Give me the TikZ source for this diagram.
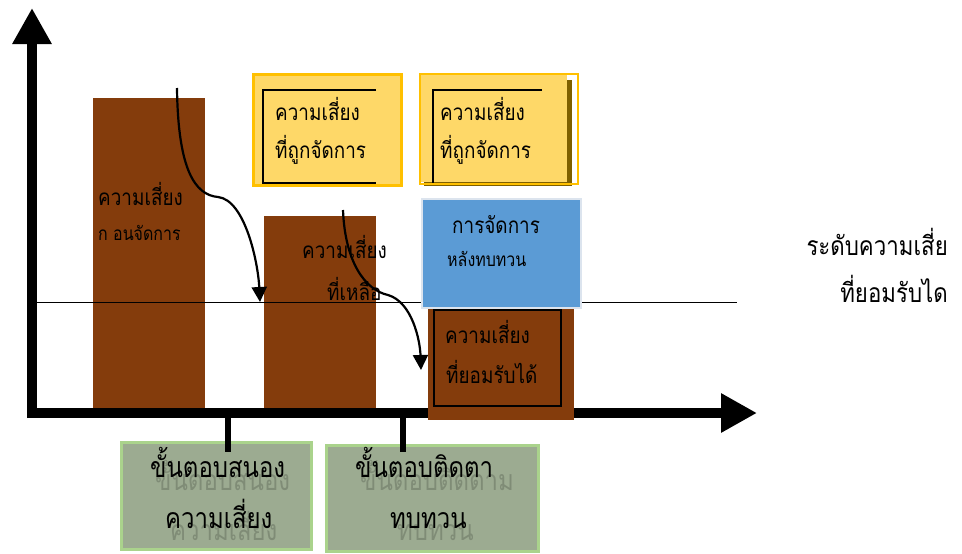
\documentclass[tikz,border=0pt]{standalone}
\usepackage{fontspec}
\setmainfont[Script=Thai, FakeStretch=0.84]{Loma}
\usetikzlibrary{positioning,arrows.meta}
\definecolor{riskbrown}{HTML}{843C0C}
\definecolor{mgdyellow}{HTML}{FED868}
\definecolor{mgdgold}{HTML}{FFC000}
\definecolor{mgdshadow}{HTML}{7F6000}
\definecolor{revblue}{HTML}{5B9BD5}
\definecolor{revedge}{HTML}{DCE4EE}
\definecolor{stepfill}{HTML}{9CAB91}
\definecolor{stepedge}{HTML}{AAD38C}
\tikzset{
  bar/.style={fill=riskbrown, anchor=north west, inner sep=0pt},
  mgdbox/.style={fill=mgdyellow, draw=mgdgold, line width=2.5pt, anchor=north west, inner sep=0pt},
  stepbox/.style={fill=stepfill, draw=stepedge, line width=3pt, anchor=north west, inner sep=0pt},
  txt/.style={anchor=base west, inner sep=0pt, font=\fontsize{22.5}{22.5}\selectfont},
  smalltxt/.style={txt, font=\fontsize{19}{19}\selectfont},
  bigtxt/.style={txt, font=\fontsize{28.5}{28.5}\selectfont},
  sidetxt/.style={txt, font=\fontsize{26.5}{26.5}\selectfont},
  ghost/.style={bigtxt, text=black, text opacity=0.18},
  axis/.style={line width=10pt, -{Triangle[width=37pt,length=36pt]}},
  flow/.style={line width=2.2pt, -{Triangle[width=15pt,length=15pt]}},
  tick/.style={line width=6pt}
}
\begin{document}
\begin{tikzpicture}[x=1pt,y=-1pt]
\useasboundingbox (0,0) rectangle (962,554);
\node[bar, minimum width=112pt, minimum height=314pt] (before) at (93,98) {};
\node[bar, minimum width=112pt, minimum height=196pt] (remain) at (264,216) {};
\coordinate (lvlL) at (33,302);
\coordinate (lvlR) at (737,302);
\draw[line width=1pt] (lvlL) -- (lvlR);
\coordinate (ybase) at (32,418);
\coordinate (ytip) at (32,8);
\coordinate (xbase) at (27,413);
\coordinate (xtip) at (757,413);
\draw[axis] (ybase) -- (ytip);
\draw[axis] (xbase) -- (xtip);
\node[bar, minimum width=146pt, minimum height=112pt] (accept) at (428,308) {};
\node[draw, line width=2pt, anchor=north west, minimum width=127pt, minimum height=96pt, inner sep=0pt] (acceptframe) at (433,309) {};
\fill[mgdshadow] (256,77) rectangle (403,187);
\node[mgdbox, minimum width=148pt, minimum height=111pt] (mgd1) at (252,73) {};
\fill[mgdshadow] (424,80) rectangle (572,186);
\node[fill=mgdyellow, anchor=north west, inner sep=0pt, minimum width=147pt, minimum height=108pt] (mgd2) at (420,74) {};
\draw[mgdgold, line width=2.5pt] (mgd2.north west) rectangle (578,184);
\draw[line width=2.5pt] (376,90) -| (263,183) -- (376,183);
\draw[line width=2.5pt] (542,90) -| (433,183);
\node[fill=revblue, draw=revedge, line width=2pt, anchor=north west, minimum width=159pt, minimum height=109pt, inner sep=0pt] (review) at (421,198) {};
\node[stepbox, minimum width=190pt, minimum height=107pt] (respond) at (120,441) {};
\node[stepbox, minimum width=212pt, minimum height=106pt] (monitor) at (325,444) {};
\coordinate (t1) at (228,413);
\coordinate (t1e) at (228,452);
\coordinate (t2) at (403,413);
\coordinate (t2e) at (403,452);
\draw[tick] (t1) -- (t1e);
\draw[tick] (t2) -- (t2e);
\coordinate (f1s) at (177,88);
\coordinate (f1m) at (218,197);
\coordinate (f1e) at (260,302);
\draw[flow] (f1s) .. controls (178,170) and (195,195) .. (f1m) .. controls (245,200) and (258,262) .. (f1e);
\node[txt] (b1a) at (98,205) {ความเสี่ยง};
\node[smalltxt] (b1b) at (98,240) {ก อนจัดการ};
\node[txt] (b2a) at (302,258) {ความเสี่ยง};
\node[txt] (b2b) at (327,300) {ที่เหลือ};
\coordinate (f2s) at (343,210);
\coordinate (f2m) at (388,295);
\coordinate (f2e) at (421,370);
\draw[flow] (f2s) .. controls (345,262) and (365,290) .. (f2m) .. controls (412,302) and (420,340) .. (f2e);
\node[txt] (m1a) at (275,120) {ความเสี่ยง};
\node[txt] (m1b) at (275,158) {ที่ถูกจัดการ};
\node[txt] (m2a) at (440,120) {ความเสี่ยง};
\node[txt] (m2b) at (440,158) {ที่ถูกจัดการ};
\node[txt] (r1) at (452,233) {การจัดการ};
\node[smalltxt] (r2) at (447,266) {หลังทบทวน};
\node[txt] (a1) at (445,343) {ความเสี่ยง};
\node[txt] (a2) at (446,383) {ที่ยอมรับได้};
\node[sidetxt, anchor=base east] (lvl1) at (948,255) {ระดับความเสี่ย};
\node[sidetxt, anchor=base east] (lvl2) at (948,302) {ที่ยอมรับได};
\node[ghost] at (155,490) {ขั้นตอบสนอง};
\node[ghost] at (170,540) {ความเสี่ยง};
\node[ghost] at (360,490) {ขั้นตอบติดตาม};
\node[ghost] at (397,540) {ทบทวน};
\node[bigtxt] (s1a) at (150,477) {ขั้นตอบสนอง};
\node[bigtxt] (s1b) at (165,528) {ความเสี่ยง};
\node[bigtxt] (s2a) at (355,477) {ขั้นตอบติดตา};
\node[bigtxt] (s2b) at (390,528) {ทบทวน};
\end{tikzpicture}
\end{document}
